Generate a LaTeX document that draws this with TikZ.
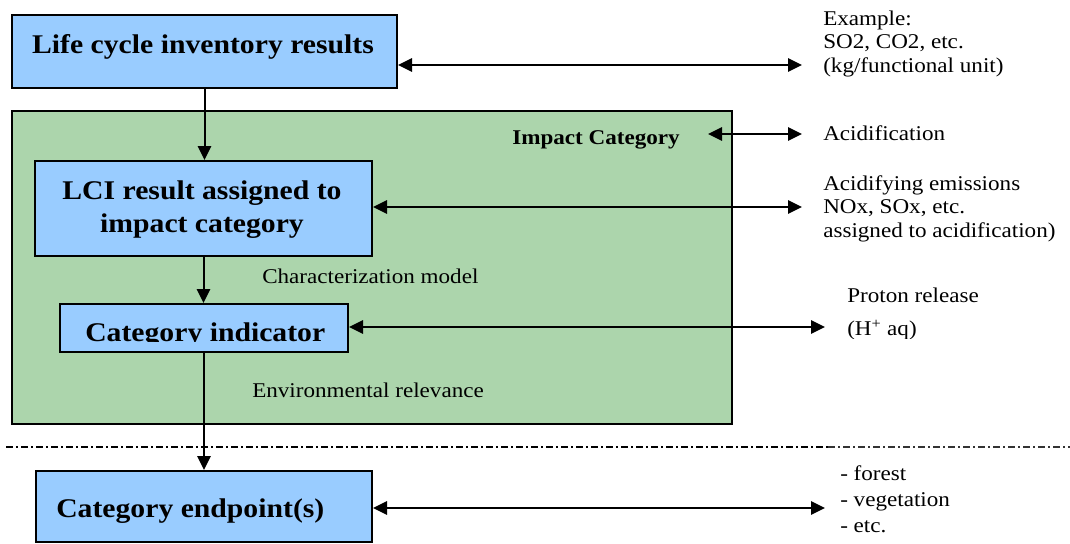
\documentclass[tikz,border=0pt]{standalone}
\usepackage{fontspec}
\setmainfont[FakeStretch=1.1]{Liberation Serif}
\usetikzlibrary{arrows.meta}
\definecolor{boxblue}{RGB}{153,204,255}
\definecolor{catgreen}{RGB}{172,213,172}
\tikzset{headtip/.tip={Triangle[length=10.5pt, width=10pt]}}
\begin{document}
\begin{tikzpicture}[x=0.75pt,y=-0.75pt,
  sized/.style 2 args={minimum width=#1*0.75pt, minimum height=#2*0.75pt},
  frame/.style={draw=black, line width=1.5pt, inner sep=0pt, anchor=north west},
  stage/.style={frame, fill=boxblue},
  area/.style={frame, fill=catgreen},
  headtext/.style={inner sep=0pt, font=\fontsize{20.25pt}{24pt}\selectfont\bfseries},
  subhead/.style={inner sep=0pt, font=\fontsize{15.75pt}{18pt}\selectfont\bfseries},
  note/.style={inner sep=0pt, anchor=base west, font=\fontsize{15.75pt}{18pt}\selectfont},
  arr/.style={line width=1.5pt, -{headtip}},
  dbl/.style={line width=1.5pt, {headtip}-{headtip}},
  sep/.style={line width=1.1pt, dash pattern=on 5.25pt off 2.25pt on 1.5pt off 2.25pt}
]
\useasboundingbox (0,0) rectangle (1070,543);

% impact category area
\node[area, sized={720}{313}] (cat) at (11,110) {};

% stage boxes
\node[stage, sized={385}{73}] (inv) at (11,14) {};
\node[stage, sized={337}{95}] (lci) at (34,160) {};
\node[stage, sized={288}{48}] (ind) at (59,303) {};
\node[stage, sized={336}{71}] (endp) at (35,470) {};

% box texts
\node[headtext, anchor=base] (invT) at (203,53) {Life cycle inventory results};
\node[headtext, anchor=base] (lciT1) at (202,199) {LCI result assigned to};
\node[headtext, anchor=base] (lciT2) at (202,232) {impact category};
\begin{scope}
  \clip (59,303) rectangle (347,341);
  \node[headtext, anchor=base west] (indT) at (85,341) {Category indicator};
\end{scope}
\node[headtext, anchor=base west] (endT) at (56,517) {Category endpoint(s)};
\node[subhead, anchor=base west] (catT) at (512,144) {Impact Category};

% step labels inside the area
\node[note] (charT) at (262,283) {Characterization model};
\node[note] (envT) at (252,397) {Environmental relevance};

% vertical flow
\draw[arr] (inv.south) -- (inv.south |- lci.north);
\draw[arr] (lci.south) -- (lci.south |- ind.north);
\draw[arr] (ind.south) -- (ind.south |- endp.north);

% boundary between midpoint and endpoint level
\coordinate (sepL) at (6,447);
\coordinate (sepM) at (828,447);
\coordinate (sepR) at (1070,447);
\draw[sep] (sepL) -- (sepM);
\draw[sep, line width=0.8pt, black!80] (sepM) -- (sepR);

% examples on the right
\coordinate (exInv) at (802,65);
\coordinate (exCatL) at (708,134);
\coordinate (exCatR) at (802,134);
\coordinate (exLci) at (802,207);
\coordinate (exInd) at (825,327);
\coordinate (exEnd) at (825,508);
\draw[dbl] (inv.east |- exInv) -- (exInv);
\draw[dbl] (exCatL) -- (exCatR);
\draw[dbl] (lci.east |- exLci) -- (exLci);
\draw[dbl] (ind.east |- exInd) -- (exInd);
\draw[dbl] (endp.east |- exEnd) -- (exEnd);

\node[note] (e1) at (823,25) {Example:};
\node[note] (e2) at (823,48.5) {SO2, CO2, etc.};
\node[note] (e3) at (823,72) {(kg/functional unit)};
\node[note] (c1) at (823,140) {Acidification};
\node[note] (l1) at (823,190) {Acidifying emissions};
\node[note] (l2) at (823,213.5) {NOx, SOx, etc.};
\node[note] (l3) at (823,237) {assigned to acidification)};
\node[note] (p1) at (847,302) {Proton release};
\begin{scope}
  \clip (840,310) rectangle (1000,338);
  \node[note] (p2) at (847,335) {(H\textsuperscript{+} aq)};
\end{scope}
\node[note] (d1) at (840,480) {- forest};
\node[note] (d2) at (840,506) {- vegetation};
\node[note] (d3) at (840,532) {- etc.};
\end{tikzpicture}
\end{document}
